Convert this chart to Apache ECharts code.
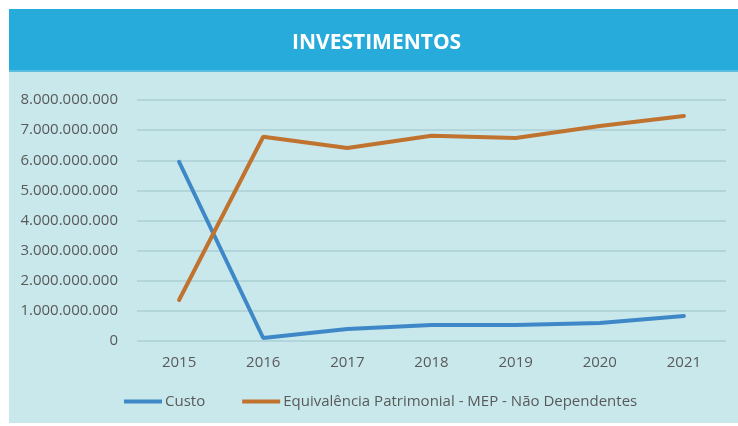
<!DOCTYPE html>
<html>
<head>
<meta charset="utf-8">
<script src="https://cdn.jsdelivr.net/npm/echarts@6/dist/echarts.min.js"></script>
<style>
  html, body { margin: 0; padding: 0; background: #fff; }
  #chart { width: 738px; height: 426px; }
</style>
</head>
<body>
<div id="chart"></div>
<script>
var anos = ['2015', '2016', '2017', '2018', '2019', '2020', '2021']
var custo = [5950000000, 100000000, 400000000, 530000000, 530000000, 600000000, 830000000]
var mep = [1360000000, 6780000000, 6410000000, 6810000000, 6740000000, 7140000000, 7470000000]
var nomes = ['Custo', 'Equivalência Patrimonial - MEP - Não Dependentes']

function fmt (v) {
  return String(v).replace(/\B(?=(\d{3})+(?!\d))/g, '.')
}

var chart = echarts.init(document.getElementById('chart'))
chart.setOption({
  backgroundColor: '#fff',
  animation: false,
  textStyle: { fontFamily: 'Open Sans' },
  graphic: [
    { type: 'rect', shape: { x: 9, y: 72, width: 729, height: 351 }, style: { fill: '#C9E8EC' }, z: -10 },
    { type: 'rect', shape: { x: 9, y: 9, width: 729, height: 63 }, style: { fill: '#26ABDA' }, z: -9 },
    { type: 'rect', shape: { x: 9, y: 70, width: 729, height: 2 }, style: { fill: '#5CBEDD' }, z: -8 }
  ],
  title: {
    text: 'INVESTIMENTOS',
    left: 287,
    top: 28,
    textStyle: { color: '#fff', fontSize: 21, fontWeight: 'bold', fontFamily: 'Open Sans' }
  },
  legend: {
    data: nomes,
    bottom: 12,
    left: 119,
    itemWidth: 38,
    itemHeight: 4,
    itemGap: 37,
    icon: 'rect',
    textStyle: { color: '#595959', fontSize: 15, padding: [0, 0, 0, -2] }
  },
  grid: { left: 137, right: 12, top: 100, bottom: 85 },
  xAxis: {
    type: 'category',
    data: anos,
    axisLine: { show: false },
    axisTick: { show: false },
    axisLabel: { color: '#595959', fontSize: 15, margin: 14 }
  },
  yAxis: {
    type: 'value',
    min: 0,
    max: 8000000000,
    interval: 1000000000,
    axisLine: { show: false },
    axisTick: { show: false },
    splitLine: { lineStyle: { color: '#A9CFD3', width: 1.5 } },
    axisLabel: { color: '#595959', fontSize: 15, margin: 19, formatter: fmt }
  },
  series: [
    {
      name: nomes[0],
      type: 'line',
      data: custo,
      symbol: 'none',
      lineStyle: { color: '#3E88C8', width: 4, cap: 'round' },
      itemStyle: { color: '#3E88C8' }
    },
    {
      name: nomes[1],
      type: 'line',
      data: mep,
      symbol: 'none',
      lineStyle: { color: '#C0722F', width: 4, cap: 'round' },
      itemStyle: { color: '#C0722F' }
    }
  ]
})
</script>
</body>
</html>
